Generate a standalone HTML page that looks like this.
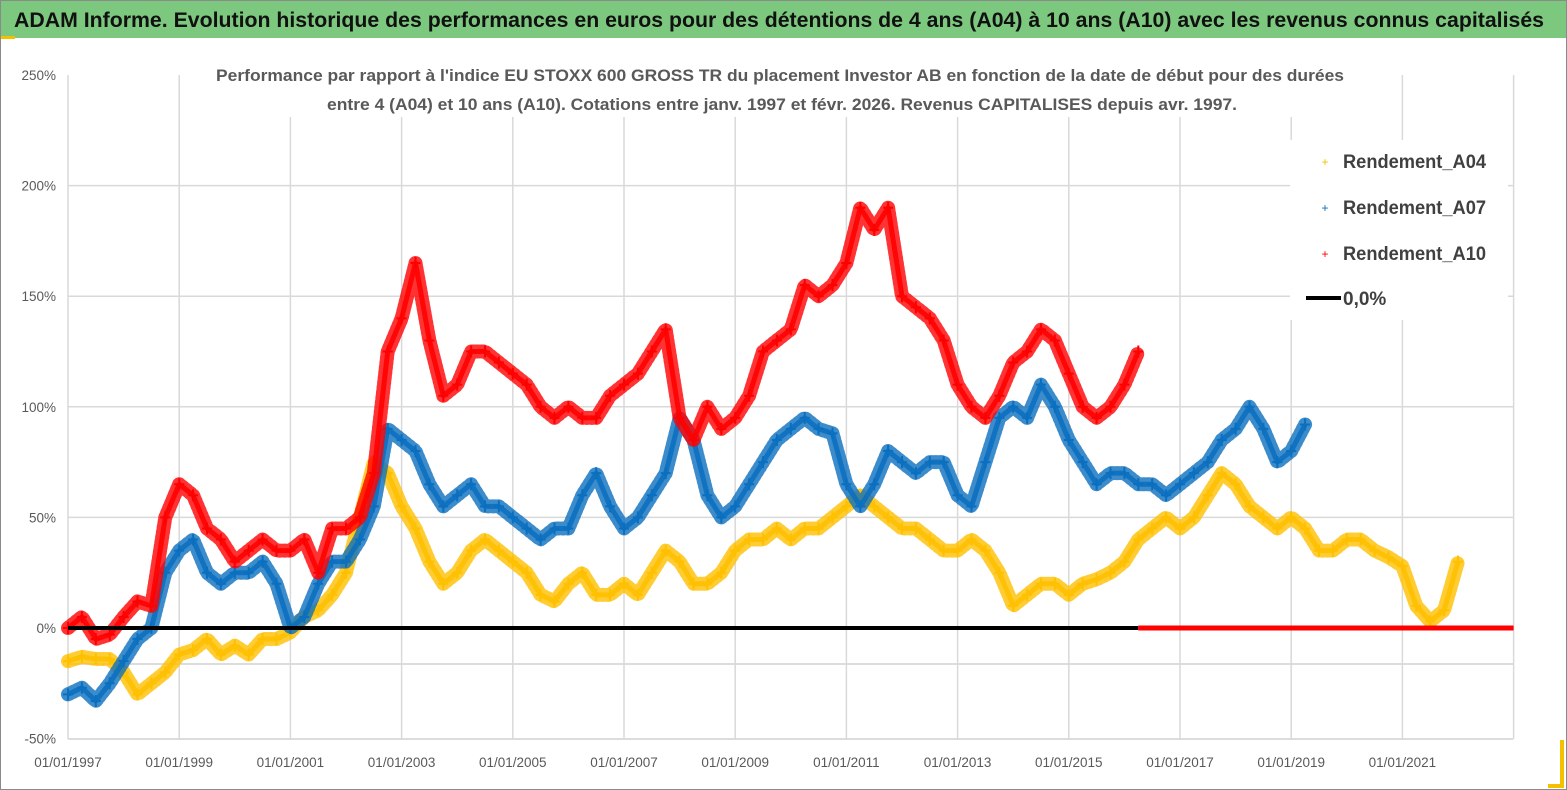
<!DOCTYPE html>
<html><head><meta charset="utf-8"><style>
html,body{margin:0;padding:0;background:#fff}
svg{display:block;font-family:"Liberation Sans",sans-serif}
</style></head><body>
<svg id="chart" width="1567" height="790" viewBox="0 0 1567 790" xmlns="http://www.w3.org/2000/svg">
<rect x="0.5" y="0.5" width="1566" height="789" fill="#fff" stroke="#8a8a8a"/>
<rect x="1" y="1" width="1565" height="37" fill="#7dc87f"/>
<rect x="1" y="36" width="14" height="3" fill="#f5c000"/>
<text x="14" y="27" font-size="21" font-weight="bold" fill="#111" textLength="1530" lengthAdjust="spacingAndGlyphs">ADAM Informe. Evolution historique des performances en euros pour des détentions de 4 ans (A04) à 10 ans (A10) avec les revenus connus capitalisés</text>
<g id="grid"></g>
<g id="axes"></g>
<rect x="205" y="62" width="1150" height="55" fill="#fff"/>
<text x="780" y="81" font-size="17" font-weight="bold" fill="#595959" text-anchor="middle" textLength="1128" lengthAdjust="spacingAndGlyphs">Performance par rapport à l'indice EU STOXX 600 GROSS TR  du placement Investor AB en fonction de la date de début pour des durées</text>
<text x="782" y="110" font-size="17" font-weight="bold" fill="#595959" text-anchor="middle" textLength="910" lengthAdjust="spacingAndGlyphs">entre 4 (A04) et 10 ans (A10). Cotations entre janv. 1997 et févr. 2026. Revenus CAPITALISES depuis avr. 1997.</text>
<g id="series"></g>
<g id="legend">
<rect x="1290" y="140" width="218" height="180" fill="#fff"/>
<text x="1325" y="166" font-size="12" fill="#f5c000" text-anchor="middle">+</text>
<text x="1343" y="168" font-size="19" fill="#404040" font-weight="bold" textLength="143" lengthAdjust="spacingAndGlyphs">Rendement_A04</text>
<text x="1325" y="212" font-size="12" fill="#0b6fbf" text-anchor="middle">+</text>
<text x="1343" y="214" font-size="19" fill="#404040" font-weight="bold" textLength="143" lengthAdjust="spacingAndGlyphs">Rendement_A07</text>
<text x="1325" y="258" font-size="12" fill="#ff0000" text-anchor="middle">+</text>
<text x="1343" y="260" font-size="19" fill="#404040" font-weight="bold" textLength="143" lengthAdjust="spacingAndGlyphs">Rendement_A10</text>
<line x1="1306" y1="298" x2="1341" y2="298" stroke="#000" stroke-width="4"/>
<text x="1343" y="305" font-size="19" fill="#404040" font-weight="bold">0,0%</text>
</g>
<path d="M1562 740 V786 H1548" fill="none" stroke="#f5c000" stroke-width="4"/>
</svg>
<script>
const startYear = 1997;
const step = 0.25;
const yTicks = [250, 200, 150, 100, 50, 0, -50];
const xTickYears = [1997, 1999, 2001, 2003, 2005, 2007, 2009, 2011, 2013, 2015, 2017, 2019, 2021];
const xTickLabels = ["01/01/1997","01/01/1999","01/01/2001","01/01/2003","01/01/2005","01/01/2007","01/01/2009","01/01/2011","01/01/2013","01/01/2015","01/01/2017","01/01/2019","01/01/2021"];
const a04 = [-15,-13,-14,-14,-20,-30,-25,-20,-12,-10,-5,-12,-8,-12,-5,-5,-2,5,8,15,25,50,75,70,55,45,30,20,25,35,40,35,30,25,15,12,20,25,15,15,20,15,25,35,30,20,20,25,35,40,40,45,40,45,45,50,55,60,55,50,45,45,40,35,35,40,35,25,10,15,20,20,15,20,22,25,30,40,45,50,45,50,60,70,65,55,50,45,50,45,35,35,40,40,35,32,28,10,3,8,30];
const a07 = [-30,-27,-33,-25,-15,-5,0,25,35,40,25,20,25,25,30,20,0,5,20,30,30,40,55,90,85,80,65,55,60,65,55,55,50,45,40,45,45,60,70,55,45,50,60,70,95,85,60,50,55,65,75,85,90,95,90,88,65,55,65,80,75,70,75,75,60,55,75,95,100,95,110,100,85,75,65,70,70,65,65,60,65,70,75,85,90,100,90,75,80,92];
const a10 = [0,5,-5,-3,5,12,10,50,65,60,45,40,30,35,40,35,35,40,25,45,45,50,70,125,140,165,130,105,110,125,125,120,115,110,100,95,100,95,95,105,110,115,125,135,95,85,100,90,95,105,125,130,135,155,150,155,165,190,180,190,150,145,140,130,110,100,95,105,120,125,135,130,115,100,95,100,110,125];
const a10ZeroStart = 2016.25;
const a10Zeros = [0,0,0,0,0,0,0,0,0,0,0,0,0,0,0,0,0,0,0,0,0,0,0,0,0,0,0,0];
const NS = "http://www.w3.org/2000/svg";
const xScale = t => 68 + (t - 1997) * 55.6;
const yScale = v => 628 - v * 2.212;
function mk(tag, attrs, parent){ const e=document.createElementNS(NS,tag); for(const k in attrs) e.setAttribute(k,attrs[k]); parent.appendChild(e); return e; }
const grid = document.getElementById('grid');
const axes = document.getElementById('axes');
const series = document.getElementById('series');
[200,150,100,50].forEach(v=>{
  const l = mk('line',{x1:68,x2:1513,y1:yScale(v),y2:yScale(v),stroke:'#d9d9d9','stroke-width':1.5},grid);
  
  
});
[664,739].forEach(y=>{
  const l = mk('line',{x1:68,x2:1513,y1:y,y2:y,stroke:'#d0d0d0','stroke-width':1.5},grid);
  
  
});
xTickYears.forEach(yr=>{
  const l = mk('line',{x1:xScale(yr),x2:xScale(yr),y1:75,y2:739,stroke:'#d9d9d9','stroke-width':1.5},grid);
  
  
});
const lastV = mk('line',{x1:xScale(2023),x2:xScale(2023),y1:75,y2:739,stroke:'#d9d9d9','stroke-width':1.5},grid);


yTicks.forEach(v=>{
  const t = mk('text',{x:56,y:yScale(v)+5,'font-size':13.5,fill:'#595959','text-anchor':'end'},axes);
  t.textContent = v + '%';
  
  
});
xTickYears.forEach((yr,i)=>{
  const t = mk('text',{x:xScale(yr),y:767,'font-size':13.5,fill:'#595959','text-anchor':'middle'},axes);
  t.textContent = xTickLabels[i];
  
  
});
function drawSeries(vals, t0, color, name){
  const g = mk('g',{},series);
  
  
  const pts = vals.map((v,i)=>[xScale(t0+i*step), yScale(v)]);
  const pl = mk('polyline',{points:pts.map(p=>p.join(',')).join(' '),fill:'none',stroke:color,'stroke-width':14,'stroke-linejoin':'round','stroke-linecap':'round','stroke-opacity':0.8,'stroke-dasharray':'2 3'},g);
  
  
  const pl2 = mk('polyline',{points:pts.map(p=>p.join(',')).join(' '),fill:'none',stroke:color,'stroke-width':5,'stroke-linejoin':'round','stroke-opacity':0.9},g);
  
  
  pts.forEach(p=>{
    const m = mk('path',{d:`M${p[0]-5},${p[1]} h10 M${p[0]},${p[1]-6} v12`,stroke:color,'stroke-width':2},g);
    
    
  });
}
drawSeries(a04, startYear, '#ffc000', 'series-a04');
drawSeries(a07, startYear, '#0b6fbf', 'series-a07');
drawSeries(a10, startYear, '#ff0000', 'series-a10');
const zl = mk('line',{x1:xScale(1997),x2:xScale(a10ZeroStart),y1:yScale(0),y2:yScale(0),stroke:'#000','stroke-width':4},series);


const zg = mk('g',{},series);


const zpts = a10Zeros.map((v,i)=>[xScale(a10ZeroStart+i*step), yScale(v)]);
const zp = mk('polyline',{points:zpts.map(p=>p.join(',')).join(' '),fill:'none',stroke:'#ff0000','stroke-width':5},zg);


</script>
</body></html>
